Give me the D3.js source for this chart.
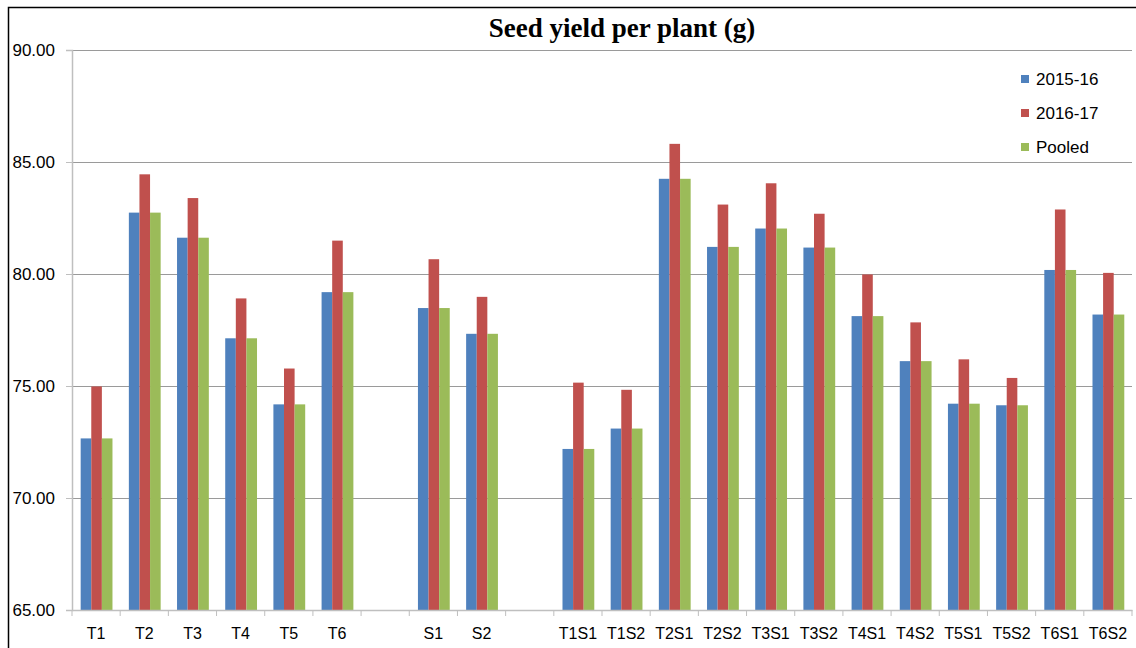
<!DOCTYPE html>
<html>
<head>
<meta charset="utf-8">
<script src="https://cdn.jsdelivr.net/npm/d3@7"></script>
<style>
  html, body { margin: 0; padding: 0; background: #fff; }
  svg { display: block; }
</style>
</head>
<body>
<svg id="chart" width="1136" height="648"></svg>
<script>
// ---- data ----
const categories = ["T1","T2","T3","T4","T5","T6","","S1","S2","","T1S1","T1S2","T2S1","T2S2","T3S1","T3S2","T4S1","T4S2","T5S1","T5S2","T6S1","T6S2"];
const seriesNames = ["2015-16","2016-17","Pooled"];
const values2015 = [72.66,82.74,81.62,77.13,74.18,79.19,null,78.48,77.33,null,72.19,73.10,84.25,81.21,82.03,81.18,78.12,76.11,74.21,74.14,80.18,78.19];
const values2016 = [74.98,84.45,83.39,78.91,75.78,81.49,null,80.66,78.98,null,75.15,74.83,85.81,83.10,84.05,82.69,79.98,77.84,76.19,75.36,82.88,80.05];
const valuesPooled = [72.66,82.74,81.62,77.13,74.18,79.19,null,78.48,77.33,null,72.19,73.10,84.25,81.21,82.03,81.18,78.12,76.11,74.21,74.14,80.18,78.19];
const yTicks = [65,70,75,80,85,90];
const colors = ["#4f81bd","#c0504d","#9bbb59"];
const chartTitle = "Seed yield per plant (g)";

const seriesValues = [values2015, values2016, valuesPooled];

const svg = d3.select("#chart");
const mLeft = 72, mRight = 1132, mTop = 50, mBottom = 610;

// outer frame
svg.append("rect").attr("x", 8.5).attr("y", 7.5).attr("width", 1200).attr("height", 700)
  .attr("fill", "none").attr("stroke", "#000").attr("stroke-width", 1.5);

const x = d3.scaleBand().domain(d3.range(categories.length)).range([mLeft, mRight]).paddingInner(0).paddingOuter(0);
const bw = x.bandwidth();
const x1 = d3.scaleBand().domain(d3.range(seriesNames.length)).range([bw * 0.18, bw * 0.84]).padding(0);
const y = d3.scaleLinear().domain([65, 90]).range([mBottom, mTop]);

// gridlines
svg.append("g").selectAll("line").data(yTicks.slice(1)).join("line")
  .attr("x1", mLeft).attr("x2", mRight)
  .attr("y1", d => Math.round(y(d)) + 0.5).attr("y2", d => Math.round(y(d)) + 0.5)
  .attr("stroke", "#9a9a9a").attr("stroke-width", 1);

// bars
const bars = svg.append("g");
seriesValues.forEach((vals, s) => {
  bars.append("g").selectAll("rect")
    .data(vals.map((v, i) => ({v, i})).filter(d => d.v != null))
    .join("rect")
    .attr("x", d => x(d.i) + x1(s))
    .attr("width", x1.bandwidth())
    .attr("y", d => y(d.v))
    .attr("height", d => y(65) - y(d.v))
    .attr("fill", colors[s]);
});

// y axis
const yAxis = d3.axisLeft(y).tickValues(yTicks).tickFormat(d3.format(".2f")).tickSizeOuter(0).tickSize(6).tickPadding(11);
const gy = svg.append("g").attr("transform", `translate(${mLeft},0)`).call(yAxis);
gy.select(".domain").attr("stroke", "#bfbfbf").attr("stroke-width", 1.5);
gy.selectAll(".tick line").attr("stroke", "#bfbfbf");
gy.selectAll(".tick text").attr("font-family", "Liberation Sans, Arial, sans-serif").attr("font-size", 17).attr("fill", "#000");

// x axis
const xAxis = d3.axisBottom(x).tickFormat(i => categories[i]).tickSize(0).tickSizeOuter(0).tickPadding(18);
const gx = svg.append("g").attr("transform", `translate(0,${mBottom})`).call(xAxis);
gx.select(".domain").attr("stroke", "#bfbfbf").attr("stroke-width", 1.5);
gx.selectAll(".tick text").attr("font-family", "Liberation Sans, Arial, sans-serif").attr("font-size", 16).attr("fill", "#000");
// tick marks at band boundaries
const bounds = d3.range(categories.length + 1).map(k => k === categories.length ? mRight : x(k));
gx.append("g").selectAll("line").data(bounds).join("line")
  .attr("x1", d => d).attr("x2", d => d).attr("y1", 0).attr("y2", 6)
  .attr("stroke", "#bfbfbf").attr("stroke-width", 1);

// title
svg.append("text").attr("x", 622).attr("y", 37).attr("text-anchor", "middle")
  .attr("font-family", "Liberation Serif, Times New Roman, serif").attr("font-weight", "bold").attr("font-size", 27)
  .attr("fill", "#000").text(chartTitle);

// legend
const lg = svg.append("g").attr("transform", "translate(1021,0)");
seriesNames.forEach((n, i) => {
  const cy = 79 + i * 34;
  lg.append("rect").attr("x", 0).attr("y", cy - 4).attr("width", 8).attr("height", 8).attr("fill", colors[i]);
  lg.append("text").attr("x", 15).attr("y", cy + 6).attr("font-family", "Liberation Sans, Arial, sans-serif")
    .attr("font-size", 17).attr("fill", "#000").text(n);
});
</script>
</body>
</html>
